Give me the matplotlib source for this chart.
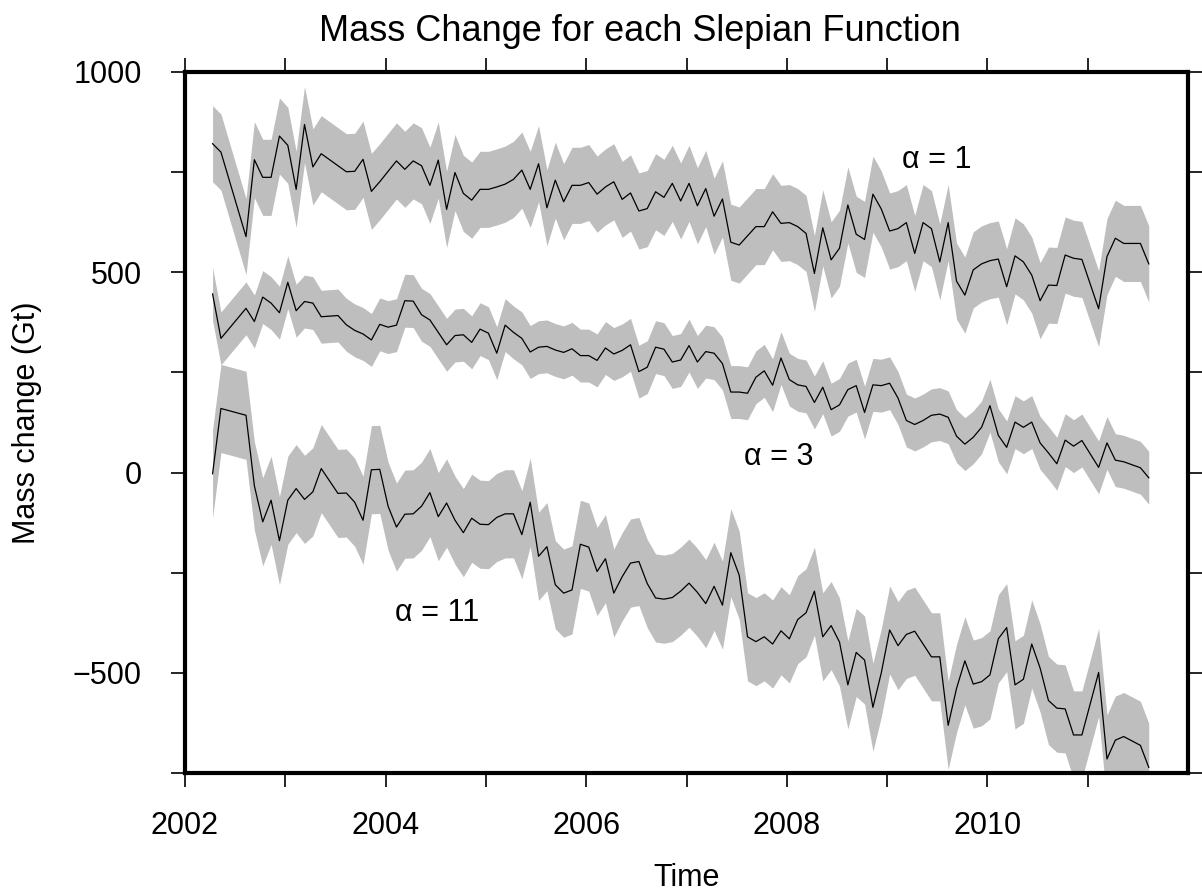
import numpy as np
import matplotlib
matplotlib.use("Agg")
import matplotlib.pyplot as plt

plt.rcParams['font.family'] = ['Liberation Sans', 'DejaVu Sans']

# months with data (GRACE monthly solutions, gaps are simply joined)
months = ['2002-04', '2002-05', '2002-08', '2002-09', '2002-10', '2002-11', '2002-12',
          '2003-01', '2003-02', '2003-03', '2003-04', '2003-05', '2003-07', '2003-08',
          '2003-09', '2003-10', '2003-11', '2003-12',
          '2004-01', '2004-02', '2004-03', '2004-04', '2004-05', '2004-06', '2004-07',
          '2004-08', '2004-09', '2004-10', '2004-11', '2004-12',
          '2005-01', '2005-02', '2005-03', '2005-04', '2005-05', '2005-06', '2005-07',
          '2005-08', '2005-09', '2005-10', '2005-11', '2005-12',
          '2006-01', '2006-02', '2006-03', '2006-04', '2006-05', '2006-06', '2006-07',
          '2006-08', '2006-09', '2006-10', '2006-11', '2006-12',
          '2007-01', '2007-02', '2007-03', '2007-04', '2007-05', '2007-06', '2007-07',
          '2007-08', '2007-09', '2007-10', '2007-11', '2007-12',
          '2008-01', '2008-02', '2008-03', '2008-04', '2008-05', '2008-06', '2008-07',
          '2008-08', '2008-09', '2008-10', '2008-11', '2008-12',
          '2009-01', '2009-02', '2009-03', '2009-04', '2009-05', '2009-06', '2009-07',
          '2009-08', '2009-09', '2009-10', '2009-11', '2009-12',
          '2010-01', '2010-02', '2010-03', '2010-04', '2010-05', '2010-06', '2010-07',
          '2010-08', '2010-09', '2010-10', '2010-11', '2010-12',
          '2011-02', '2011-03', '2011-04', '2011-05', '2011-07', '2011-08']

alpha1 = [821, 800, 589, 781, 737, 737, 840,
          817, 707, 869, 763, 796, 766, 751, 752, 782, 702, 726,
          752, 778, 757, 778, 766, 717, 780, 657, 749, 697, 680, 707,
          707, 713, 720, 732, 755, 707, 771, 661, 730, 676, 717, 717,
          724, 695, 713, 726, 682, 698, 653, 659, 701, 687, 722, 678,
          722, 666, 709, 640, 683, 575, 568, 591, 614, 614, 651, 622,
          624, 614, 597, 497, 611, 531, 560, 668, 595, 582, 695, 658,
          603, 609, 624, 547, 624, 609, 526, 624, 478, 443, 506, 521,
          529, 533, 464, 541, 526, 493, 429, 468, 467, 543, 535, 532,
          409, 539, 585, 572, 572, 521]

alpha3 = [446, 335, 410, 377, 438, 423, 399,
          475, 404, 427, 423, 389, 392, 369, 355, 346, 331, 370,
          363, 368, 429, 428, 394, 381, 350, 319, 342, 344, 325, 358,
          348, 298, 368, 350, 335, 301, 313, 315, 306, 300, 309, 292,
          292, 280, 311, 296, 305, 319, 252, 263, 313, 308, 276, 281,
          317, 276, 302, 298, 272, 201, 201, 198, 238, 254, 218, 286,
          232, 219, 215, 175, 213, 157, 169, 207, 217, 150, 219, 217,
          223, 186, 130, 120, 130, 143, 146, 138, 91, 71, 88, 113,
          167, 93, 63, 126, 113, 126, 74, 49, 22, 81, 66, 80,
          13, 74, 31, 27, 12, -13]

alpha11 = [-3, 160, 143, -33, -123, -69, -170,
           -69, -40, -67, -48, 10, -52, -51, -74, -119, 7, 8,
           -84, -136, -104, -103, -84, -50, -110, -76, -119, -150, -114, -129,
           -130, -112, -103, -103, -155, -74, -209, -185, -280, -301, -293, -179,
           -186, -247, -215, -301, -260, -226, -222, -277, -313, -316, -312, -296,
           -276, -299, -327, -284, -331, -200, -256, -410, -422, -410, -428, -395,
           -415, -367, -350, -296, -410, -382, -423, -530, -449, -468, -586, -500,
           -393, -432, -404, -396, -428, -460, -460, -631, -539, -470, -528, -522,
           -505, -415, -387, -530, -516, -428, -488, -569, -588, -590, -655, -655,
           -499, -715, -668, -659, -681, -736]

# one-sigma errors (Gt)
err1 = 95
err3 = 66
err11 = 110

t = np.array([int(m[:4]) + (int(m[5:]) - 0.7) / 12 for m in months])

fig = plt.figure(figsize=(12.02, 8.92), dpi=100)
ax = fig.add_axes([0.1539, 0.1334, 0.8345, 0.7859])

for vals, err in [(alpha1, err1), (alpha3, err3), (alpha11, err11)]:
    v = np.array(vals, dtype=float)
    ax.fill_between(t, v - err, v + err, color='#bebebe', lw=0)
    ax.plot(t, v, color='black', lw=0.9)

ax.set_xlim(2002, 2012)
ax.set_ylim(-750, 1000)
ax.set_xticks([2002, 2004, 2006, 2008, 2010])
ax.set_xticks([2003, 2005, 2007, 2009, 2011], minor=True)
ax.set_yticks([-500, 0, 500, 1000])
ax.set_yticks([-750, -250, 250, 750], minor=True)
ax.tick_params(which='both', direction='out', length=10, width=1.2,
               top=True, right=True, labelsize=22)
ax.tick_params(axis='y', pad=21)
ax.tick_params(axis='x', pad=17)

for s in ax.spines.values():
    s.set_linewidth(3)

ax.set_xlabel('Time', fontsize=22)
ax.set_ylabel('Mass change (Gt)', fontsize=22)
ax.xaxis.set_label_coords(0.5, -0.15)
ax.xaxis.label.set_va('center')
ax.yaxis.set_label_coords(-0.158, 0.5)
ax.yaxis.label.set_va('center')
fig.text(0.532, 0.965, 'Mass Change for each Slepian Function',
         fontsize=26, ha='center', va='center')

ax.text(2009.49, 780, '\u03b1 = 1', fontsize=22, ha='center', va='center')
ax.text(2007.92, 40, '\u03b1 = 3', fontsize=22, ha='center', va='center')
ax.text(2004.51, -350, '\u03b1 = 11', fontsize=22, ha='center', va='center')

fig.savefig('out.png', dpi=100)
